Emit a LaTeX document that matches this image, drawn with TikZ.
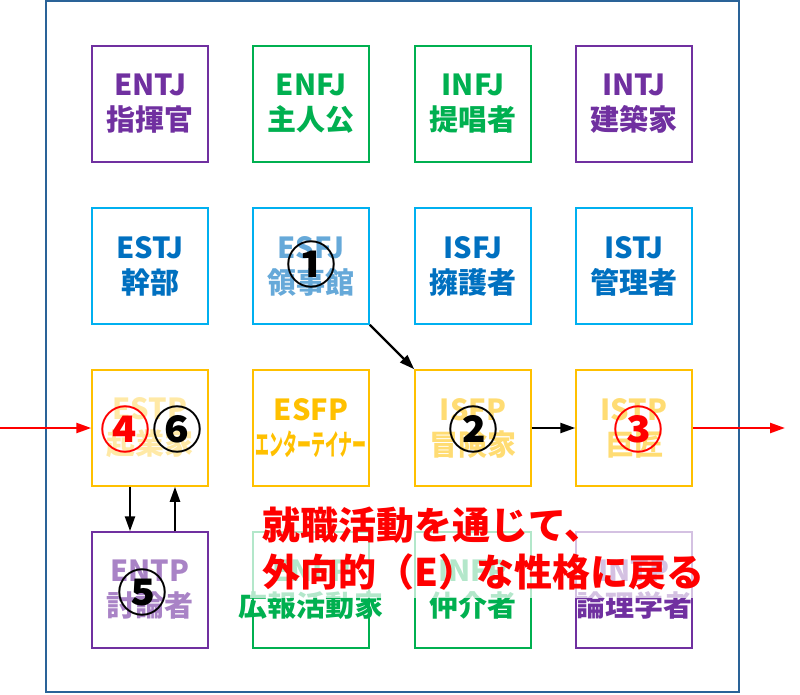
\documentclass[tikz,border=0pt]{standalone}
\usepackage{fontspec}
\setmainfont{Noto Sans CJK JP}
\usetikzlibrary{arrows.meta}
\definecolor{nt}{HTML}{7030A0}
\definecolor{nf}{HTML}{00B050}
\definecolor{sjline}{HTML}{00B0F0}
\definecolor{sjtext}{HTML}{0070C0}
\definecolor{sp}{HTML}{FFC000}
\definecolor{frameblue}{HTML}{2A6398}

\begin{document}
\begin{tikzpicture}[x=1pt,y=-1pt,
    typebox/.style={draw,line width=1.5pt,minimum width=116pt,minimum height=116pt,
      inner sep=0pt,align=center,font=\fontsize{29}{35}\selectfont\bfseries},
    ntbox/.style={typebox,draw=nt,text=nt},
    nfbox/.style={typebox,draw=nf,text=nf},
    sjbox/.style={typebox,draw=sjline,text=sjtext},
    spbox/.style={typebox,draw=sp,text=sp},
    num/.style={font=\fontsize{50}{50}\selectfont\bfseries,inner sep=0pt},
    link/.style={-{Triangle[length=15pt,width=10pt]},line width=2.4pt}]
        \useasboundingbox (0,0) rectangle (800,694);
        % Cadre
        \draw[frameblue,line width=2pt] (46,1) rectangle (739,692);

        % Analystes / Diplomates
        \node[ntbox] (entj) at (150,104) {ENTJ\\指揮官};
        \node[nfbox] (enfj) at (311,104) {ENFJ\\主人公};
        \node[nfbox] (infj) at (473,104) {INFJ\\提唱者};
        \node[ntbox] (intj) at (634,104) {INTJ\\建築家};

        % Sentinelles
        \node[sjbox] (estj) at (150,266) {ESTJ\\幹部};
        \node[sjbox,text opacity=0.6] (esfj) at (311,266) {ESFJ\\領事館};
        \node[sjbox] (isfj) at (473,266) {ISFJ\\擁護者};
        \node[sjbox] (istj) at (634,266) {ISTJ\\管理者};

        % Explorateurs
        \node[spbox,text opacity=0.35] (estp) at (150,428) {ESTP\\起業家};
        \node[spbox] (esfp) at (311,428) {ESFP\\\scalebox{0.48}[1]{エンターテイナー}};
        \node[spbox,text opacity=0.55] (isfp) at (473,428) {ISFP\\冒険家};
        \node[spbox,text opacity=0.55] (istp) at (634,428) {ISTP\\巨匠};

        % Ligne du bas
        \node[ntbox,text opacity=0.6] (entp) at (150,590) {ENTP\\討論者};
        \node[nfbox] (enfp) at (311,590) {ENFP\\\makebox[0pt]{広報活動家}};
        \node[nfbox] (infp) at (473,590) {INFP\\仲介者};
        \node[ntbox] (intp) at (634,590) {INTP\\論理学者};

        % Flèches
        \coordinate (start) at (0,428);
        \coordinate (finish) at (785,428);
        \draw[link,red] (start) -- (estp.west);
        \draw[link,red] (istp.east) -- (finish);
        \draw[link] (esfj.south east) -- (isfp.north west);
        \draw[link] (isfp.east) -- (istp.west);
        \draw[link] ([xshift=-20pt]estp.south) -- ([xshift=-20pt]entp.north);
        \draw[link] ([xshift=25pt]entp.north) -- ([xshift=25pt]estp.south);

        % Étapes
        \node[num] (no1) at (311,264) {①};
        \node[num] (no2) at (473,429) {②};
        \node[num,red] (no3) at (638,429) {③};
        \node[num,red] (no4) at (125,429) {④};
        \node[num] (no6) at (177,429) {⑥};
        \node[num] (no5) at (142,592) {⑤};

        % Message
        \fill[white,opacity=0.7] (250,493) rectangle (728,598);
        \node[red,anchor=west,align=left,inner sep=0pt,
          font=\fontsize{38}{47}\selectfont\bfseries] (msg) at (262,549)
          {就職活動を通じて、\\外向的（E）な性格に戻る};
\end{tikzpicture}
\end{document}
